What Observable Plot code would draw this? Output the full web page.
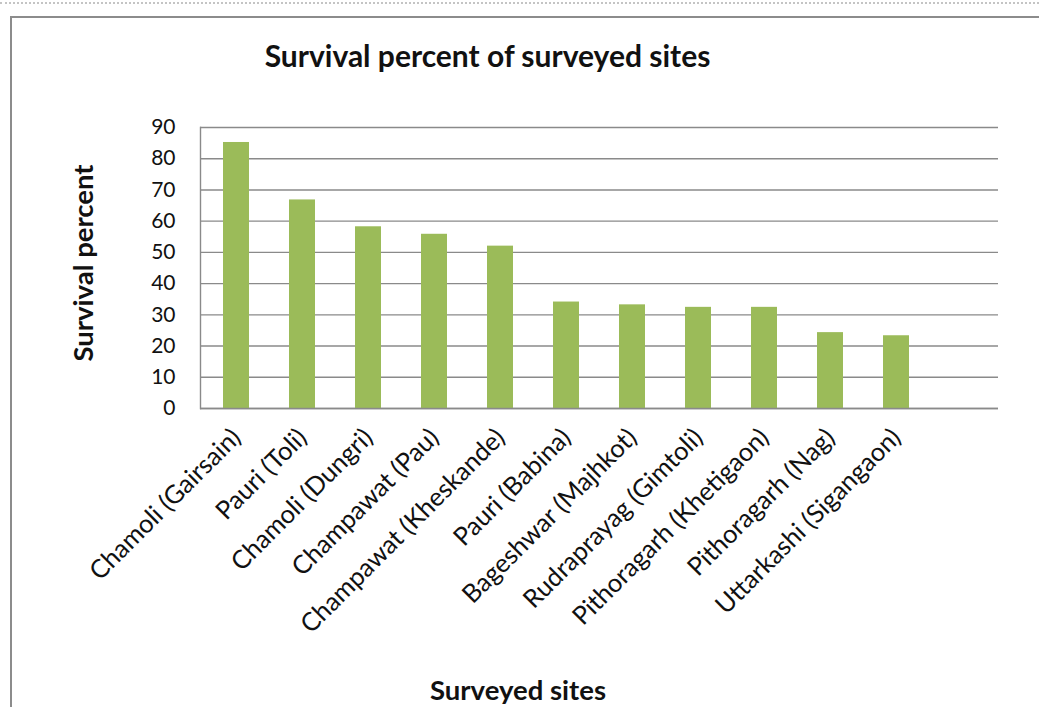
<!DOCTYPE html>
<html>
<head>
<meta charset="utf-8">
<script src="https://cdn.jsdelivr.net/npm/d3@7"></script>
<script src="https://cdn.jsdelivr.net/npm/@observablehq/plot@0.6"></script>
<style>
  html, body { margin: 0; padding: 0; background: #fff; }
  #root { position: relative; width: 1039px; height: 707px; overflow: hidden; background: #fff; font-family: Lato, "Open Sans", sans-serif; color: #111; }
  #dots { position: absolute; left: 0; top: 2px; width: 1039px; border-top: 2px dotted #c4c4c4; }
  #box { position: absolute; left: 10px; top: 16px; width: 1100px; height: 800px; border: 2px solid #8c8c8c; box-sizing: border-box; }
  .t { position: absolute; font-weight: bold; white-space: nowrap; }
  #title { left: 0; width: 975px; text-align: center; top: 37px; font-size: 30px; }
  #ytitle { left: 82px; top: 263px; font-size: 27.5px; transform: translate(-50%, -50%) rotate(-90deg); }
  #xtitle { left: 518px; top: 689px; font-size: 27.5px; transform: translate(-50%, -50%); }
  #chart { position: absolute; left: 0; top: 0; }
</style>
</head>
<body>
<div id="root">
  <div id="dots"></div>
  <div id="box"></div>
  <div id="chart"></div>
  <div class="t" id="title">Survival percent of surveyed sites</div>
  <div class="t" id="ytitle">Survival percent</div>
  <div class="t" id="xtitle">Surveyed sites</div>
</div>
<script>
const sites = [
  "Chamoli (Gairsain)", "Pauri (Toli)", "Chamoli (Dungri)", "Champawat (Pau)",
  "Champawat (Kheskande)", "Pauri (Babina)", "Bageshwar (Majhkot)", "Rudraprayag (Gimtoli)",
  "Pithoragarh (Khetigaon)", "Pithoragarh (Nag)", "Uttarkashi (Sigangaon)"
];
const survival = [85.2, 66.8, 58.2, 55.8, 52.0, 34.1, 33.2, 32.4, 32.4, 24.3, 23.3];
const yTicks = [0, 10, 20, 30, 40, 50, 60, 70, 80, 90];
const emptySlot = [" "];

const data = sites.map((s, i) => ({site: s, value: survival[i]}));

const chart = Plot.plot({
  width: 1039,
  height: 707,
  marginLeft: 200,
  marginRight: 41,
  marginTop: 127,
  marginBottom: 299,
  style: {fontFamily: "Lato, 'Open Sans', sans-serif", fontSize: "21px", color: "#111", background: "transparent"},
  x: {domain: sites.concat(emptySlot), paddingInner: 0.61, paddingOuter: 0.305, label: null},
  y: {domain: [0, 90], label: null},
  marks: [
    Plot.gridY(yTicks, {stroke: "#8a8a8a", strokeOpacity: 1, strokeWidth: 1.4}),
    Plot.barY(data, {x: "site", y: "value", fill: "#9BBB59"}),
    Plot.ruleY([0], {stroke: "#8a8a8a", strokeWidth: 1.6}),
    Plot.frame({anchor: "left", stroke: "#8a8a8a", strokeWidth: 1.4}),
    Plot.axisY(yTicks, {tickSize: 0, tickPadding: 25, fill: "#111", fontSize: 21, label: null}),
    Plot.axisX({tickSize: 0, tickRotate: -45, tickPadding: 25, fill: "#111", fontSize: 25.5, label: null})
  ]
});
document.getElementById("chart").appendChild(chart);
</script>
</body>
</html>
